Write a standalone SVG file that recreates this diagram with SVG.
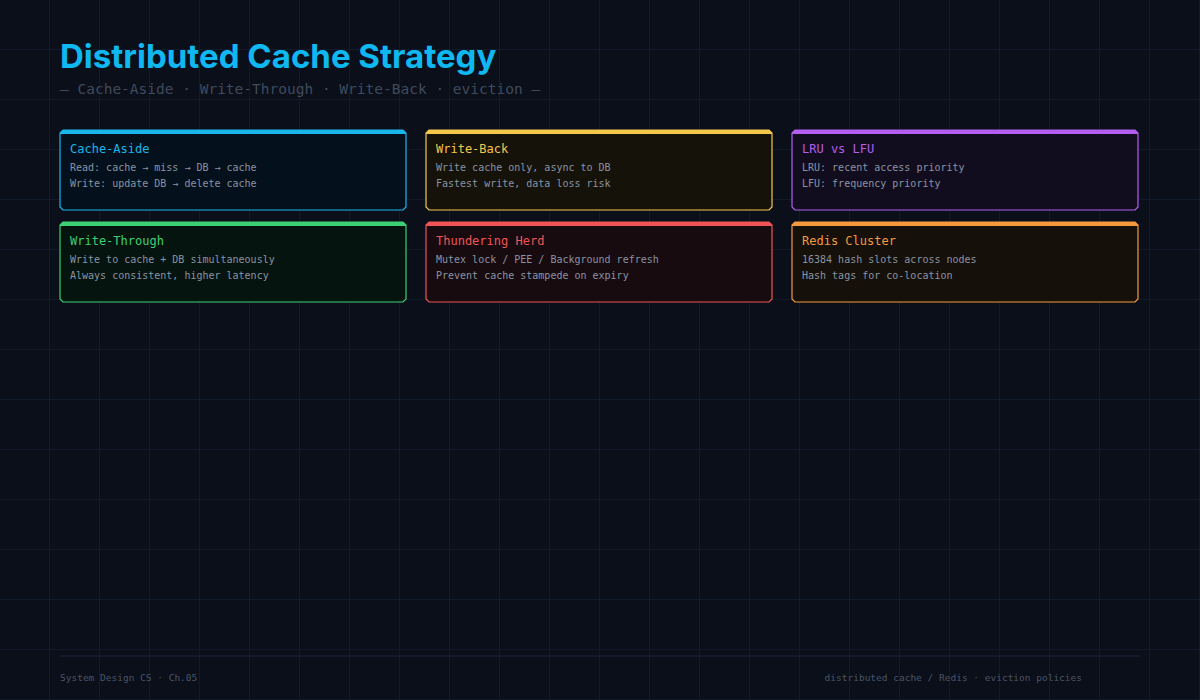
<svg xmlns="http://www.w3.org/2000/svg" width="1200" height="700" viewBox="0 0 1200 700">
<defs>
<pattern id="grid" width="50" height="50" patternUnits="userSpaceOnUse"><path d="M50 0V50M0 50H50" fill="none" stroke="#16233a" stroke-width="1"/></pattern>
<style>
.t{font-family:Inter,"Liberation Sans",sans-serif;font-weight:700;font-size:33px;fill:#0fb8f0}
.sub{font-family:"DejaVu Sans Mono","Liberation Mono",monospace;font-size:14.5px;fill:#3f4a5c}
.h{font-family:"DejaVu Sans Mono","Liberation Mono",monospace;font-size:12px}
.b{font-family:"DejaVu Sans Mono","Liberation Mono",monospace;font-size:10px;fill:#8a93a2}
.f{font-family:"DejaVu Sans Mono","Liberation Mono",monospace;font-size:9.5px;fill:#4a5466}
</style>
</defs>
<rect width="1200" height="700" fill="#0a0f1a"/>
<rect width="1200" height="700" fill="url(#grid)"/>
<text class="t" x="60" y="68">Distributed Cache Strategy</text>
<text class="sub" x="60" y="94">— Cache-Aside · Write-Through · Write-Back · eviction —</text>
<g id="cache-aside" transform="translate(60,130)">
<path d="M3 0H343L346 3V77L343 80H3L0 77V3Z" fill="#04111c" stroke="#19b6ec" stroke-width="1.2"/><path d="M3 0H343L346 3V4H0V3Z" fill="#19b6ec"/>
<text class="h" x="10" y="23" fill="#19b6ec">Cache-Aside</text>
<text class="b" x="10" y="41">Read: cache → miss → DB → cache</text>
<text class="b" x="10" y="57">Write: update DB → delete cache</text></g>
<g id="write-back" transform="translate(426,130)">
<path d="M3 0H343L346 3V77L343 80H3L0 77V3Z" fill="#15120a" stroke="#f5c84c" stroke-width="1.2"/><path d="M3 0H343L346 3V4H0V3Z" fill="#f5c84c"/>
<text class="h" x="10" y="23" fill="#f5c84c">Write-Back</text>
<text class="b" x="10" y="41">Write cache only, async to DB</text>
<text class="b" x="10" y="57">Fastest write, data loss risk</text></g>
<g id="lru-lfu" transform="translate(792,130)">
<path d="M3 0H343L346 3V77L343 80H3L0 77V3Z" fill="#120d1e" stroke="#b35ef0" stroke-width="1.2"/><path d="M3 0H343L346 3V4H0V3Z" fill="#b35ef0"/>
<text class="h" x="10" y="23" fill="#b35ef0">LRU vs LFU</text>
<text class="b" x="10" y="41">LRU: recent access priority</text>
<text class="b" x="10" y="57">LFU: frequency priority</text></g>
<g id="write-through" transform="translate(60,222)">
<path d="M3 0H343L346 3V77L343 80H3L0 77V3Z" fill="#06140f" stroke="#3ccf74" stroke-width="1.2"/><path d="M3 0H343L346 3V4H0V3Z" fill="#3ccf74"/>
<text class="h" x="10" y="23" fill="#3ccf74">Write-Through</text>
<text class="b" x="10" y="41">Write to cache + DB simultaneously</text>
<text class="b" x="10" y="57">Always consistent, higher latency</text></g>
<g id="thundering-herd" transform="translate(426,222)">
<path d="M3 0H343L346 3V77L343 80H3L0 77V3Z" fill="#170b10" stroke="#f05454" stroke-width="1.2"/><path d="M3 0H343L346 3V4H0V3Z" fill="#f05454"/>
<text class="h" x="10" y="23" fill="#f05454">Thundering Herd</text>
<text class="b" x="10" y="41">Mutex lock / PEE / Background refresh</text>
<text class="b" x="10" y="57">Prevent cache stampede on expiry</text></g>
<g id="redis-cluster" transform="translate(792,222)">
<path d="M3 0H343L346 3V77L343 80H3L0 77V3Z" fill="#16100a" stroke="#f59a3c" stroke-width="1.2"/><path d="M3 0H343L346 3V4H0V3Z" fill="#f59a3c"/>
<text class="h" x="10" y="23" fill="#f59a3c">Redis Cluster</text>
<text class="b" x="10" y="41">16384 hash slots across nodes</text>
<text class="b" x="10" y="57">Hash tags for co-location</text></g>
<g id="connectors"/>
<line x1="60" y1="656" x2="1140" y2="656" stroke="#1c2638" stroke-width="1"/>
<text class="f" x="60" y="681">System Design CS  ·  Ch.05</text>
<text class="f" x="1082" y="681" text-anchor="end">distributed cache  /  Redis · eviction policies</text>
</svg>
